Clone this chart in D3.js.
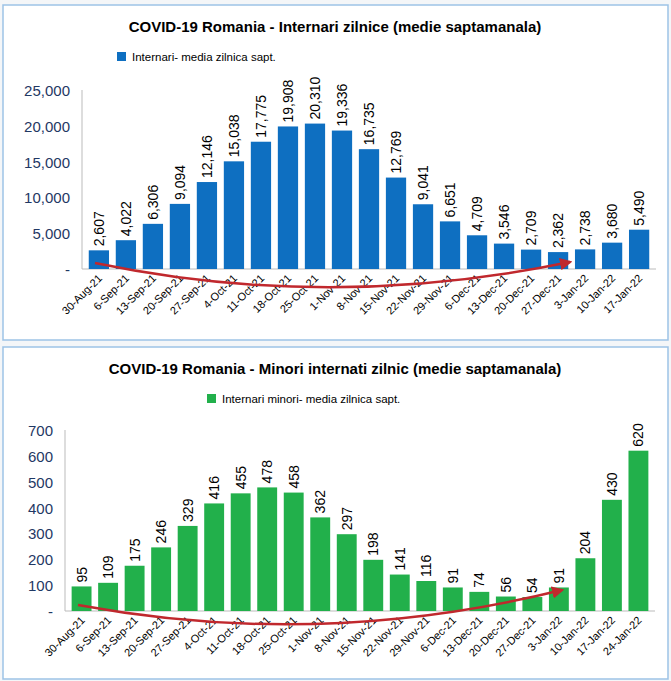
<!DOCTYPE html>
<html><head><meta charset="utf-8">
<script src="https://cdn.jsdelivr.net/npm/d3@7"></script>
<style>body{margin:0;background:#f4f6f8;font-family:"Liberation Sans",Arial,sans-serif}</style>
</head><body><svg id="c" width="671" height="681"></svg>
<script>
// top chart data
var datesTop = ["30-Aug-21","6-Sep-21","13-Sep-21","20-Sep-21","27-Sep-21","4-Oct-21","11-Oct-21","18-Oct-21","25-Oct-21","1-Nov-21","8-Nov-21","15-Nov-21","22-Nov-21","29-Nov-21","6-Dec-21","13-Dec-21","20-Dec-21","27-Dec-21","3-Jan-22","10-Jan-22","17-Jan-22"];
var valuesTop = [2607,4022,6306,9094,12146,15038,17775,19908,20310,19336,16735,12769,9041,6651,4709,3546,2709,2362,2738,3680,5490,6999];
valuesTop = valuesTop.slice(1); valuesTop.unshift(2607); valuesTop = valuesTop.slice(0,21);
valuesTop = [2607,4022,6306,9094,12146,15038,17775,19908,20310,19336,16735,12769,9041,6651,4709,3546,2709,2362,2738,3680,5490,6999].slice(0,22);
// bottom chart data
var datesBot = datesTop.concat(["24-Jan-22"]);
var valuesBot = [95,109,175,246,329,416,455,478,458,362,297,198,141,116,91,74,56,54,91,204,430,620];
var ticksTop = [0,5000,10000,15000,20000,25000];
var ticksBot = [0,100,200,300,400,500,600,700];

var svg = d3.select("#c");
var defs = svg.append("defs");
defs.append("marker").attr("id","ah").attr("viewBox","0 0 10 10").attr("refX",8).attr("refY",5)
  .attr("markerWidth",5).attr("markerHeight",5).attr("orient","auto")
  .append("path").attr("d","M0,0L10,5L0,10z").attr("fill","#c0282d");

function panel(cfg){
  var g = svg.append("g");
  g.append("rect").attr("x",3).attr("y",cfg.top).attr("width",665).attr("height",cfg.h)
    .attr("fill","#fff").attr("stroke","#9dc3e6").attr("stroke-width",1.5);
  g.append("text").attr("x",335).attr("y",cfg.top+27).attr("text-anchor","middle")
    .attr("font-weight","bold").attr("font-size",15).text(cfg.title);
  g.append("rect").attr("x",cfg.legX).attr("y",cfg.top+47).attr("width",9).attr("height",9).attr("fill",cfg.color);
  g.append("text").attr("x",cfg.legX+15).attr("y",cfg.top+56).attr("font-size",11.5).text(cfg.legend);
  var x = d3.scaleBand().domain(cfg.dates).range([cfg.x0,cfg.x1]).padding(0.25);
  var y = d3.scaleLinear().domain([0,cfg.max]).range([cfg.y0,cfg.y1]);
  g.append("line").attr("x1",cfg.x0).attr("x2",cfg.x0).attr("y1",cfg.y0).attr("y2",cfg.y1).attr("stroke","#bbb");
  g.append("line").attr("x1",cfg.x0).attr("x2",cfg.x1).attr("y1",cfg.y0).attr("y2",cfg.y0).attr("stroke","#bbb");
  g.selectAll(".yt").data(cfg.ticks).enter().append("text")
    .attr("x",cfg.x0-12).attr("y",d=>y(d)+6).attr("text-anchor","end")
    .attr("font-size",15).attr("fill","#1f3864")
    .text(d=>d===0?"-":d3.format(",")(d));
  g.selectAll(".bar").data(cfg.values).enter().append("rect")
    .attr("x",(d,i)=>x(cfg.dates[i])).attr("width",x.bandwidth())
    .attr("y",d=>y(d)).attr("height",d=>cfg.y0-y(d)).attr("fill",cfg.color);
  g.selectAll(".vl").data(cfg.values).enter().append("text")
    .attr("transform",(d,i)=>"translate("+(x(cfg.dates[i])+x.bandwidth()/2+5)+","+(y(d)-4)+") rotate(-90)")
    .attr("font-size",14).text(d=>d3.format(",")(d));
  g.selectAll(".xl").data(cfg.dates).enter().append("text")
    .attr("transform",d=>"translate("+(x(d)+x.bandwidth()/2+4)+","+(cfg.y0+10)+") rotate(-45)")
    .attr("text-anchor","end").attr("font-size",11).text(d=>d);
  var a = cfg.arrow;
  g.append("path").attr("d","M"+a[0]+","+a[1]+" Q"+a[2]+","+a[3]+" "+a[4]+","+a[5])
    .attr("fill","none").attr("stroke","#c0282d").attr("stroke-width",2.5).attr("marker-end","url(#ah)");
}

panel({top:5,h:335,title:"COVID-19 Romania - Internari zilnice (medie saptamanala)",legX:117,
  legend:"Internari- media zilnica sapt.",color:"#0e6fc1",dates:datesTop,values:valuesTop.slice(0,21),
  x0:82,x1:656,y0:269,y1:90,max:25000,ticks:ticksTop,arrow:[95,263,330,312,570,262]});
panel({top:347,h:332,title:"COVID-19 Romania - Minori internati zilnic (medie saptamanala)",legX:207,
  legend:"Internari minori- media zilnica sapt.",color:"#22b04b",dates:datesBot,values:valuesBot,
  x0:65,x1:655,y0:611,y1:430,max:700,ticks:ticksBot,arrow:[78,605,320,650,562,590]});
</script></body></html>
